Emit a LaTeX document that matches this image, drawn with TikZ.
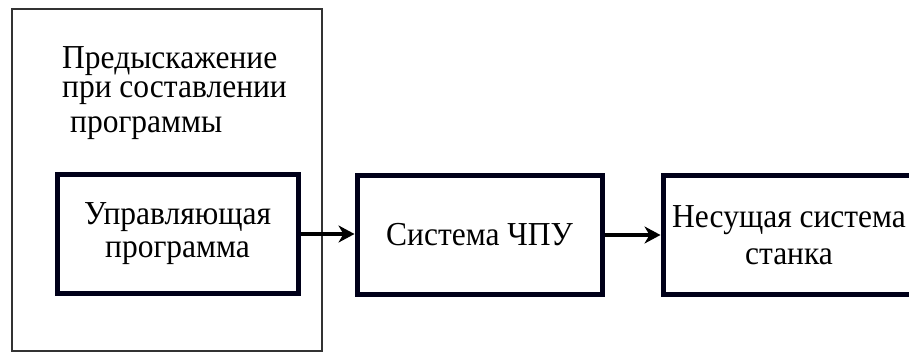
\documentclass[tikz,border=0pt]{standalone}
\usepackage{fontspec}
\setmainfont{Liberation Serif}[FakeStretch=0.94]
\usetikzlibrary{arrows.meta}
\tikzset{
  thickbox/.style={draw=black!90!blue, line width=5pt, minimum width=#1, minimum height=119pt, inner sep=0pt, align=center, font=\fontsize{33.5}{34}\selectfont},
  outerbox/.style={draw=black!80, line width=2pt},
  lbl/.style={anchor=north west, inner sep=0pt, align=left, font=\fontsize{33.5}{29}\selectfont},
  flow/.style={line width=4pt, -{Stealth[length=16pt,width=17pt,inset=5pt]}}
}
\begin{document}
\begin{tikzpicture}[x=1pt,y=-1pt]
\useasboundingbox (0,0) rectangle (909,361);
\clip (0,0) rectangle (909,361);
\draw[outerbox] (12,9) rectangle (322,351);
\node[lbl] (l1) at (62,46) {Предыскажение\\при составлении\\[6pt]\hspace*{8pt}программы};
\node[thickbox=241pt] (up) at (177.5,234) {\raisebox{-3pt}{Управляющая}\\[-1pt]\raisebox{-3pt}{программа}};
\node[thickbox=245pt] (cnc) at (479.5,235) {Система ЧПУ};
\node[thickbox=252pt] (mach) at (789,235) {Несущая система\\[3pt]станка};
\draw[flow] (up.east) -- (up.east -| cnc.west);
\draw[flow] (cnc.east) -- (cnc.east -| mach.west);
\end{tikzpicture}
\end{document}
